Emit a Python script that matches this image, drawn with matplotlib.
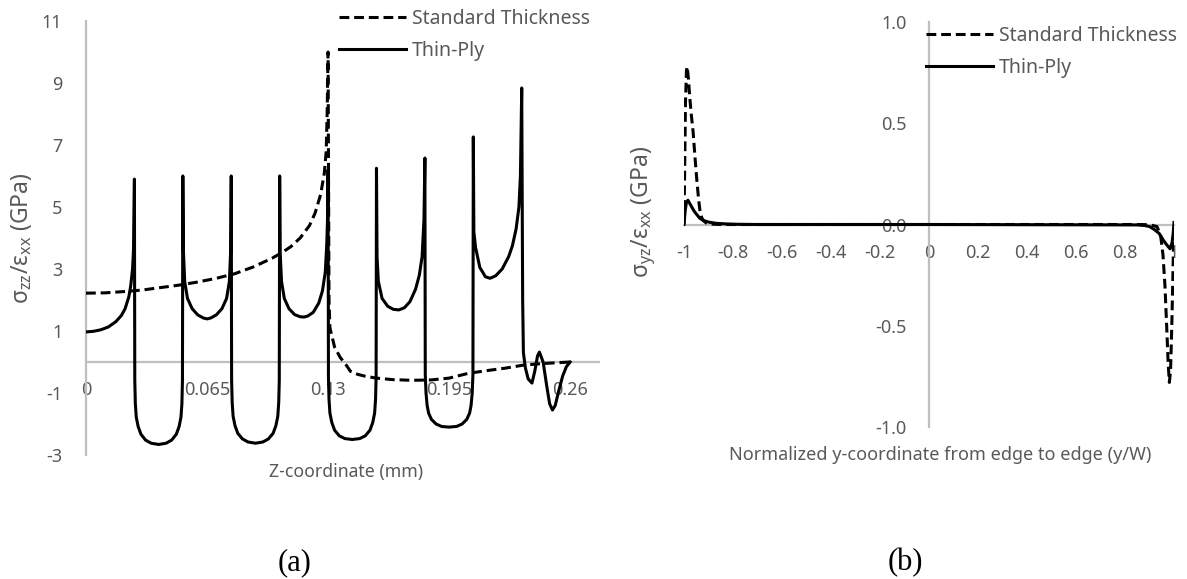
import matplotlib.pyplot as plt

# (a) through-thickness normal stress along z
std_z = [0, 0.01, 0.02, 0.03, 0.04, 0.05, 0.06, 0.07, 0.08, 0.09, 0.10, 0.105,
         0.11, 0.115, 0.12, 0.123, 0.126, 0.128, 0.129, 0.1295, 0.13,
         0.1305, 0.131, 0.1335, 0.1365, 0.14, 0.142, 0.146, 0.15, 0.156,
         0.165, 0.175, 0.185, 0.195, 0.205, 0.215, 0.225, 0.235, 0.245, 0.26]
std_szz = [2.22, 2.23, 2.27, 2.32, 2.4, 2.48, 2.58, 2.7, 2.85, 3.07, 3.35, 3.52,
           3.72, 4.0, 4.4, 4.8, 5.4, 6.1, 6.8, 8.0, 10.0,
           2.0, 1.1, 0.48, 0.15, -0.12, -0.3, -0.4, -0.46, -0.52,
           -0.57, -0.59, -0.58, -0.52, -0.37, -0.28, -0.2, -0.1, -0.05, 0.0]

thin_z = [
    0, 0.004, 0.008, 0.012, 0.016, 0.019, 0.021, 0.023, 0.024, 0.025, 0.0255, 0.026,
    0.0262, 0.0265, 0.027, 0.028, 0.0295, 0.032, 0.035, 0.039, 0.043, 0.046, 0.0485,
    0.050, 0.051, 0.0515, 0.0518, 0.052,
    0.0523, 0.053, 0.0545, 0.057, 0.060, 0.063, 0.065, 0.067, 0.070, 0.073, 0.0755,
    0.077, 0.0777, 0.078,
    0.0782, 0.0785, 0.079, 0.080, 0.0815, 0.084, 0.087, 0.091, 0.095, 0.098, 0.1005,
    0.102, 0.103, 0.1035, 0.1038, 0.104,
    0.1043, 0.105, 0.1065, 0.109, 0.112, 0.115, 0.117, 0.119, 0.122, 0.125, 0.127,
    0.1285, 0.1293, 0.1298, 0.130,
    0.1302, 0.1305, 0.131, 0.132, 0.1335, 0.136, 0.139, 0.143, 0.147, 0.150, 0.1525,
    0.154, 0.155, 0.1555, 0.1558, 0.156,
    0.1563, 0.157, 0.159, 0.162, 0.165, 0.168, 0.171, 0.174, 0.177, 0.179, 0.1805,
    0.1815, 0.182,
    0.1822, 0.1826, 0.1832, 0.184, 0.1855, 0.188, 0.191, 0.195, 0.199, 0.202, 0.2045,
    0.206, 0.2068, 0.2074, 0.2078, 0.208,
    0.2083, 0.2092, 0.2115, 0.2145, 0.217, 0.220, 0.2235, 0.227, 0.229, 0.231, 0.2325,
    0.2333, 0.234,
    0.2345, 0.2349, 0.236, 0.2375, 0.2395, 0.241, 0.2425, 0.2435, 0.2455, 0.2475,
    0.249, 0.2505, 0.252, 0.254, 0.256, 0.258, 0.26,
]
thin_szz = [
    0.97, 0.99, 1.04, 1.13, 1.3, 1.5, 1.72, 2.1, 2.45, 3.0, 3.6, 5.9,
    -0.6, -1.35, -1.78, -2.08, -2.33, -2.52, -2.62, -2.66, -2.62, -2.52, -2.33,
    -2.08, -1.78, -1.35, -0.6, 6.0,
    3.6, 2.6, 2.05, 1.72, 1.52, 1.42, 1.39, 1.42, 1.52, 1.72, 2.05,
    2.6, 3.6, 6.0,
    -0.6, -1.3, -1.75, -2.05, -2.3, -2.48, -2.58, -2.62, -2.58, -2.48, -2.3,
    -2.05, -1.75, -1.3, -0.6, 6.0,
    3.5, 2.6, 2.05, 1.72, 1.53, 1.46, 1.45, 1.48, 1.6, 1.9, 2.3,
    2.9, 3.8, 4.8, 6.2,
    -0.5, -1.2, -1.65, -1.95, -2.2, -2.38, -2.47, -2.5, -2.47, -2.38, -2.2,
    -1.95, -1.65, -1.2, -0.5, 6.25,
    3.4, 2.6, 2.05, 1.8, 1.7, 1.68, 1.75, 1.95, 2.35, 2.8, 3.4,
    4.6, 6.58,
    -0.4, -1.0, -1.4, -1.65, -1.85, -2.0, -2.08, -2.1, -2.08, -2.0, -1.85,
    -1.65, -1.4, -1.0, -0.4, 7.26,
    4.2, 3.7, 3.05, 2.75, 2.7, 2.78, 3.0, 3.4, 3.75, 4.3, 5.0,
    6.0, 8.84,
    2.0, 0.3, -0.2, -0.55, -0.68, -0.3, 0.2, 0.32, 0.0, -0.8,
    -1.35, -1.55, -1.4, -0.9, -0.45, -0.15, 0.0,
]

# (b) interlaminar shear stress across the width
std_y = [-1.0, -0.997, -0.994, -0.99, -0.987, -0.982, -0.976, -0.97, -0.963,
         -0.955, -0.947, -0.94, -0.935, -0.928, -0.922, -0.91, -0.89, -0.85,
         0.0, 0.85, 0.9, 0.93, 0.945, 0.955, 0.963, 0.97, 0.976, 0.981,
         0.986, 0.991, 0.995, 0.998, 1.0]
std_syz = [0.0, 0.3, 0.6, 0.76, 0.78, 0.72, 0.62, 0.54, 0.46,
           0.33, 0.21, 0.12, 0.07, 0.035, 0.02, 0.008, 0.002, 0.0,
           0.0, 0.0, -0.001, -0.01, -0.05, -0.15, -0.3, -0.5, -0.68, -0.78,
           -0.72, -0.5, -0.28, -0.1, 0.0]

thin_y = [-1.0, -0.995, -0.99, -0.984, -0.977, -0.97, -0.963, -0.955, -0.945,
          -0.935, -0.92, -0.9, -0.87, -0.83, -0.78, -0.7, 0.0, 0.85, 0.88,
          0.9, 0.92, 0.94, 0.955, 0.97, 0.984, 0.992, 0.997, 1.0]
thin_syz = [0.0, 0.07, 0.11, 0.12, 0.105, 0.09, 0.075, 0.06, 0.045,
            0.03, 0.02, 0.012, 0.006, 0.003, 0.001, 0.0, 0.0, -0.002, -0.005,
            -0.01, -0.025, -0.045, -0.075, -0.1, -0.12, -0.09, -0.04, 0.01]

a_xticks = [0, 0.065, 0.13, 0.195, 0.26]
a_xlabels = ["0", "0.065", "0.13", "0.195", "0.26"]
a_yticks = [-3, -1, 1, 3, 5, 7, 9, 11]
b_xticks = [-1, -0.8, -0.6, -0.4, -0.2, 0, 0.2, 0.4, 0.6, 0.8, 1]
b_xlabels = ["-1", "-0.8", "-0.6", "-0.4", "-0.2", "0", "0.2", "0.4", "0.6", "0.8", "1"]
b_yticks = [-1.0, -0.5, 0.0, 0.5, 1.0]
b_ylabels = ["-1.0", "-0.5", "0.0", "0.5", "1.0"]

plt.rcParams["font.family"] = ["Noto Sans", "DejaVu Sans"]
plt.rcParams["mathtext.fontset"] = "custom"
plt.rcParams["mathtext.rm"] = "Noto Sans"
plt.rcParams["axes.unicode_minus"] = False

W, H = 1187, 579
grey = "#595959"
axis_grey = "#BFBFBF"
dash = (0, (3.2, 1.6))

fig = plt.figure(figsize=(W / 100, H / 100), dpi=100)
ax1 = fig.add_axes([86 / W, (H - 455) / H, (599 - 86) / W, 434 / H])
ax2 = fig.add_axes([684 / W, (H - 427) / H, 490 / W, 405 / H])

for ax in (ax1, ax2):
    for side in ("top", "right"):
        ax.spines[side].set_visible(False)
    for side in ("left", "bottom"):
        ax.spines[side].set_position("zero")
        ax.spines[side].set_color(axis_grey)
        ax.spines[side].set_linewidth(1.6)
    ax.tick_params(length=0, colors=grey, labelsize=13)
    ax.set_facecolor("none")

l_std, = ax1.plot(std_z, std_szz, color="black", lw=2.2, linestyle=dash, zorder=3)
l_thin, = ax1.plot(thin_z, thin_szz, color="black", lw=2.2, zorder=3)
ax1.set_xlim(0, 0.2755)
ax1.set_ylim(-3, 11)
ax1.set_xticks(a_xticks, a_xlabels)
ax1.set_yticks(a_yticks, [str(t) for t in a_yticks])
ax1.tick_params(axis="x", pad=14)
ax1.tick_params(axis="y", pad=17)

ax2.plot(std_y, std_syz, color="black", lw=2.2, linestyle=dash, zorder=3)
ax2.plot(thin_y, thin_syz, color="black", lw=2.2, zorder=3)
ax2.set_xlim(-1, 1)
ax2.set_ylim(-1, 1)
ax2.set_xticks(b_xticks, b_xlabels)
ax2.set_yticks(b_yticks, b_ylabels)
ax2.tick_params(axis="x", pad=14)
ax2.tick_params(axis="y", pad=16)

legend_kw = dict(loc="upper left", frameon=False, fontsize=14, labelcolor=grey,
                 handlelength=3.45, handletextpad=0.3, borderpad=0,
                 borderaxespad=0, labelspacing=0.62, bbox_transform=fig.transFigure)
leg1 = ax1.legend([l_std, l_thin], ["Standard Thickness", "Thin-Ply"],
                  bbox_to_anchor=(339 / W, 1 - 9 / H), **legend_kw)
leg2 = ax2.legend([l_std, l_thin], ["Standard Thickness", "Thin-Ply"],
                  bbox_to_anchor=(926 / W, 1 - 26 / H), **legend_kw)

fig.text(22 / W, 1 - 238 / H, r"σ$_{\mathrm{zz}}$/ε$_{\mathrm{xx}}$ (GPa)",
         rotation=90, ha="center", va="center", color=grey, fontsize=16.5)
fig.text(644 / W, 1 - 212 / H, r"σ$_{\mathrm{yz}}$/ε$_{\mathrm{xx}}$ (GPa)",
         rotation=90, ha="center", va="center", color=grey, fontsize=16.5)
fig.text(346 / W, 1 - 472 / H, "Z-coordinate (mm)", ha="center", va="center",
         color=grey, fontsize=12.7)
fig.text(940 / W, 1 - 455 / H, "Normalized y-coordinate from edge to edge (y/W)",
         ha="center", va="center", color=grey, fontsize=13)

fig.text(295 / W, 1 - 563 / H, "(a)", ha="center", va="center",
         family="Liberation Serif", fontsize=22)
fig.text(905 / W, 1 - 563 / H, "(b)", ha="center", va="center",
         family="Liberation Serif", fontsize=22)

fig.savefig("out.png", dpi=100)
